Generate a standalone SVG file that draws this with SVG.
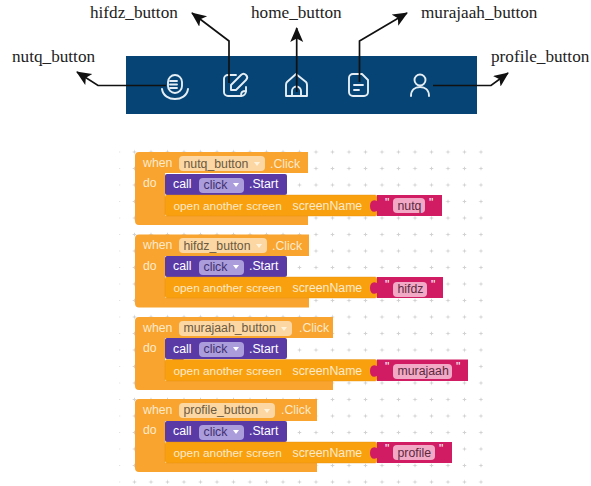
<svg xmlns="http://www.w3.org/2000/svg" width="591" height="486" viewBox="0 0 591 486">
<style>
.lab{font:17.2px "Liberation Serif",serif;fill:#222}
.b{font:12.3px "Liberation Sans",Arial,sans-serif;fill:#fdeacb}
.o{font-size:11.8px}
.w{fill:#fff}
.te{fill:#6b5a40}
.tc{fill:#3f3070}
.ts{fill:#5c2a40}
.ev{fill:#f8a42e}
.op{fill:#f9a00e;stroke:#e0900f;stroke-width:.4}
.ca{fill:#5a3ba6}
.st{fill:#d11c63}
.pe{fill:#fcd7a4}
.pc{fill:#ab9cdc}
.ps{fill:#f2a9c6}
.ic{fill:none;stroke:#e4eef4;stroke-width:1.9;stroke-linecap:round;stroke-linejoin:round}
.ln{fill:none;stroke:#111;stroke-width:1.7}
.tr{fill:#fff3dc}
</style>
<defs>
<marker id="ah" markerWidth="16" markerHeight="14" refX="14" refY="6.500" orient="auto" markerUnits="userSpaceOnUse"><path d="M0 0L15 6.500L0 13L3.500 6.500Z" fill="#111"/></marker>
<pattern id="grid" x="10.75" y="11.75" width="16.5" height="16.5" patternUnits="userSpaceOnUse"><path d="M8.250 6.500v3.500M6.500 8.250h3.500" stroke="#d2d2d2" stroke-width="1"/></pattern>
<path id="nub" d="M0 0l3 4h6l3-4z"/>
<path id="tri" d="M0 0h6l-3 4z"/>
</defs>
<rect width="591" height="486" fill="#fff"/>
<rect x="119" y="145" width="364" height="339" fill="url(#grid)"/>
<g id="toolbar">
<rect x="126" y="56" width="351" height="58" fill="#054474"/>
</g>
<g id="nutq_icon" class="ic">
<rect x="168" y="75" width="14" height="18" rx="7"/><path d="M170 81h7M170 84.500h7M170 88h7M162 89c1 7 7 10 13 10s12-3 13-10"/>
</g>
<g id="hifdz_icon" class="ic">
<path d="M236 75h-8a4 4 0 0 0-4 4v13a4 4 0 0 0 4 4h13a5 5 0 0 0 5-5v-4"/><path d="M231 90v-5l10-10c2-2 4-1 5 0s2 3 0 5l-10 10z"/><path d="M241 96c0-4 1-5 5-5"/>
</g>
<g id="home_icon" class="ic">
<path d="M286 96v-11c0-1 0-2 1-3l9-8 10 8c1 1 1 2 1 3v11z"/><path d="M292 96v-5a4.500 4.500 0 0 1 9 0v5"/>
</g>
<g id="murajaah_icon" class="ic">
<path d="M353 74h9l6 6v12a4 4 0 0 1-4 4h-11a4 4 0 0 1-4-4v-14a4 4 0 0 1 4-4z"/><path d="M354 85h9M354 90h5"/>
</g>
<g id="profile_icon" class="ic">
<circle cx="420" cy="80" r="5.500"/><path d="M411 96c0-6 4-9 9-9s9 3 9 9"/>
</g>
<g id="connectors">
<path class="ln" marker-end="url(#ah)" d="M166 85.500H98L77 72"/>
<path class="ln" marker-end="url(#ah)" d="M229 83V41L192 13"/>
<path class="ln" marker-end="url(#ah)" d="M296.700 92V28"/>
<path class="ln" marker-end="url(#ah)" d="M359.500 82V41L407 13"/>
<path class="ln" marker-end="url(#ah)" d="M433 85.500H491L508 73"/>
</g>
<g id="labels">
<text class="lab" x="12" y="62">nutq_button</text>
<text class="lab" x="90" y="18">hifdz_button</text>
<text class="lab" x="251" y="18">home_button</text>
<text class="lab" x="421" y="18">murajaah_button</text>
<text class="lab" x="491" y="62">profile_button</text>
</g>
<g id="block_nutq">
<path class="ev" d="M139 152H308V173H165V216H308V225H139a4 4 0 0 1-4-4V156a4 4 0 0 1 4-4z"/>
<text class="b" x="143" y="167">when</text><text class="b" x="143" y="187">do</text>
<rect class="pe" x="179" y="156" width="86" height="15" rx="4"/>
<text class="b te" x="183.500" y="167.500">nutq_button</text>
<use href="#tri" x="254" y="162" class="tr"/>
<text class="b" x="270" y="167.500">.Click</text>
<rect class="ca" x="165" y="174" width="122" height="21" rx="2"/><use href="#nub" x="172" y="195" class="ca"/>
<text class="b w" x="173" y="188">call</text>
<rect class="pc" x="199" y="178" width="45" height="15" rx="4"/>
<text class="b tc" x="203.500" y="189">click</text>
<use href="#tri" x="233" y="183" class="w"/>
<text class="b w" x="249" y="188">.Start</text>
<rect class="op" x="165" y="195" width="212" height="21" rx="2"/>
<text class="b o" x="173.500" y="209.500">open another screen</text><text class="b" x="292.500" y="209.500">screenName</text>
<path class="st" d="M377 195H442V216H377V211c-4 2-7 0-7-5s3-7 7-5z"/>
<text class="b w" x="385" y="207">"</text>
<rect class="ps" x="393" y="198" width="32" height="15" rx="4"/>
<text class="b ts" x="397.500" y="209.500">nutq</text>
<text class="b w" x="429" y="207">"</text>
</g>
<g id="block_hifdz">
<path class="ev" d="M139 234.500H309V256H165V298H309V307.500H139a4 4 0 0 1-4-4V238.500a4 4 0 0 1 4-4z"/>
<text class="b" x="143" y="249">when</text><text class="b" x="143" y="270">do</text>
<rect class="pe" x="179" y="238" width="88" height="15" rx="4"/>
<text class="b te" x="183.500" y="249.500">hifdz_button</text>
<use href="#tri" x="256" y="244" class="tr"/>
<text class="b" x="272" y="249.500">.Click</text>
<rect class="ca" x="165" y="256" width="122" height="21" rx="2"/><use href="#nub" x="172" y="277" class="ca"/>
<text class="b w" x="173" y="270">call</text>
<rect class="pc" x="199" y="260" width="45" height="15" rx="4"/>
<text class="b tc" x="203.500" y="271">click</text>
<use href="#tri" x="233" y="265" class="w"/>
<text class="b w" x="249" y="270">.Start</text>
<rect class="op" x="165" y="277" width="212" height="21" rx="2"/>
<text class="b o" x="173.500" y="292">open another screen</text><text class="b" x="292.500" y="292">screenName</text>
<path class="st" d="M377 277H443V298H377V293c-4 2-7 0-7-5s3-7 7-5z"/>
<text class="b w" x="385" y="289">"</text>
<rect class="ps" x="393" y="282" width="34" height="15" rx="4"/>
<text class="b ts" x="397.500" y="293">hifdz</text>
<text class="b w" x="431" y="289">"</text>
</g>
<g id="block_murajaah">
<path class="ev" d="M139 317H333V338H165V381H333V390H139a4 4 0 0 1-4-4V321a4 4 0 0 1 4-4z"/>
<text class="b" x="143" y="332">when</text><text class="b" x="143" y="352">do</text>
<rect class="pe" x="179" y="321" width="113" height="15" rx="4"/>
<text class="b te" x="183.500" y="332">murajaah_button</text>
<use href="#tri" x="281" y="327" class="tr"/>
<text class="b" x="299" y="332">.Click</text>
<rect class="ca" x="165" y="338" width="122" height="21" rx="2"/><use href="#nub" x="172" y="359" class="ca"/>
<text class="b w" x="173" y="353">call</text>
<rect class="pc" x="199" y="342" width="45" height="15" rx="4"/>
<text class="b tc" x="203.500" y="353">click</text>
<use href="#tri" x="233" y="347" class="w"/>
<text class="b w" x="249" y="353">.Start</text>
<rect class="op" x="165" y="359.500" width="212" height="21.500" rx="2"/>
<text class="b o" x="173.500" y="374.500">open another screen</text><text class="b" x="292.500" y="374.500">screenName</text>
<path class="st" d="M377 359.500H468V381H377V376c-4 2-7 0-7-5s3-7 7-5z"/>
<text class="b w" x="385" y="371">"</text>
<rect class="ps" x="393" y="364" width="59" height="15" rx="4"/>
<text class="b ts" x="397.500" y="375">murajaah</text>
<text class="b w" x="456" y="371">"</text>
</g>
<g id="block_profile">
<path class="ev" d="M139 399H317V421H165V463H317V472H139a4 4 0 0 1-4-4V403a4 4 0 0 1 4-4z"/>
<text class="b" x="143" y="414">when</text><text class="b" x="143" y="434">do</text>
<rect class="pe" x="179" y="403" width="96" height="15" rx="4"/>
<text class="b te" x="183.500" y="414">profile_button</text>
<use href="#tri" x="264" y="409" class="tr"/>
<text class="b" x="281" y="414">.Click</text>
<rect class="ca" x="165" y="421" width="122" height="21" rx="2"/><use href="#nub" x="172" y="442" class="ca"/>
<text class="b w" x="173" y="435">call</text>
<rect class="pc" x="199" y="425" width="45" height="15" rx="4"/>
<text class="b tc" x="203.500" y="436">click</text>
<use href="#tri" x="233" y="430" class="w"/>
<text class="b w" x="249" y="435">.Start</text>
<rect class="op" x="165" y="442" width="212" height="21" rx="2"/>
<text class="b o" x="173.500" y="456.500">open another screen</text><text class="b" x="292.500" y="456.500">screenName</text>
<path class="st" d="M377 442H452V463H377V458c-4 2-7 0-7-5s3-7 7-5z"/>
<text class="b w" x="385" y="453">"</text>
<rect class="ps" x="393" y="445" width="42" height="15" rx="4"/>
<text class="b ts" x="397.500" y="456.500">profile</text>
<text class="b w" x="439" y="453">"</text>
</g>
</svg>
